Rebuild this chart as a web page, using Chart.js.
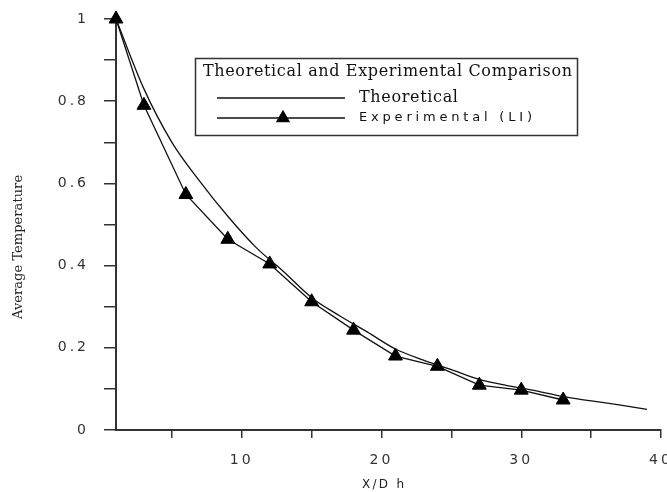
<!DOCTYPE html>
<html><head><meta charset="utf-8">
<script src="https://cdn.jsdelivr.net/npm/chart.js@4/dist/chart.umd.min.js"></script>
<style>html,body{margin:0;padding:0;background:#fff}#wrap{width:667px;height:492px}</style>
</head><body><div id="wrap"><canvas id="c" width="667" height="492"></canvas></div>
<script>
// ---- data ----
const theoX = [1,3,5,7,9,11,13,15,17,19,21,23,25,27,29,31,33,35,37,39];
const theoY = [1.0,0.83,0.70,0.605,0.52,0.445,0.385,0.322,0.278,0.238,0.197,0.17,0.147,0.123,0.108,0.096,0.081,0.071,0.061,0.05];
const expX = [1,3,6,9,12,15,18,21,24,27,30,33];
const expY = [1,0.79,0.573,0.464,0.404,0.312,0.243,0.18,0.155,0.109,0.097,0.073];
const xTickValues = [5,10,15,20,25,30,35,40];
const xTickLabels = {10:'10',20:'20',30:'30',40:'40'};
const yTickValues = [0,0.1,0.2,0.3,0.4,0.5,0.6,0.7,0.8,0.9,1];
const yTickLabels = ['0','','0.2','','0.4','','0.6','','0.8','','1'];
const seriesNames = ['Theoretical','Experimental (LI)'];
const legendTitle = 'Theoretical and Experimental Comparison';
const xTitle = 'X/D h';
const yTitle = 'Average Temperature';

const AX = '#333';
const SANS = '"DejaVu Sans", sans-serif';
const SERIF = '"DejaVu Serif", serif';
const toPts = (xs, ys) => xs.map((x, i) => ({x, y: ys[i]}));

// draw text so that it spans a given width (by letter spacing)
function fitText(ctx, text, x, y, font, width) {
  ctx.font = font;
  ctx.letterSpacing = '0px';
  const w = ctx.measureText(text).width;
  const n = Math.max(text.length - 1, 1);
  ctx.letterSpacing = ((width - w) / n).toFixed(2) + 'px';
  ctx.fillText(text, x, y);
  ctx.letterSpacing = '0px';
}

const overlay = {
  id: 'overlay',
  beforeUpdate(chart){ chart.ctx.letterSpacing = '3px'; },
  beforeDraw(chart){ chart.ctx.letterSpacing = '3px'; },
  afterDraw(chart){
    const ctx = chart.ctx;
    ctx.save();
    ctx.fillStyle = '#222';
    ctx.textAlign = 'left'; ctx.textBaseline = 'middle';
    fitText(ctx, xTitle, 362, 485, '12px ' + SANS, 42);
    ctx.save();
    ctx.translate(19, 319);
    ctx.rotate(-Math.PI/2);
    fitText(ctx, yTitle, 0, 0, '13px ' + SERIF, 144);
    ctx.restore();

    // legend box
    const bx = 195.5, by = 58.5, bw = 382, bh = 77;
    ctx.fillStyle = '#fff';
    ctx.fillRect(bx, by, bw, bh);
    ctx.strokeStyle = AX; ctx.lineWidth = 1.5;
    ctx.strokeRect(bx, by, bw, bh);
    ctx.fillStyle = '#111';
    fitText(ctx, legendTitle, 203, 72, '16px ' + SERIF, 369);
    const rows = [98, 118];
    chart.data.datasets.forEach((ds, i) => {
      const y = rows[i];
      ctx.strokeStyle = '#111'; ctx.lineWidth = 1.3;
      ctx.beginPath(); ctx.moveTo(217, y); ctx.lineTo(345, y); ctx.stroke();
      if (ds.pointRadius > 0) {
        ctx.fillStyle = '#000';
        Chart.helpers.drawPoint(ctx, {pointStyle: 'triangle', radius: 7, borderWidth: 1, rotation: 0}, 283, y);
        ctx.fill();
      }
      ctx.fillStyle = '#111';
      if (i === 0) fitText(ctx, ds.label, 359, y, '16px ' + SERIF, 99);
      else fitText(ctx, ds.label, 359, y, '13px ' + SANS, 173);
    });
    ctx.restore();
  }
};

new Chart(document.getElementById('c'), {
  type: 'line',
  data: {
    datasets: [
      {label: seriesNames[0], data: toPts(theoX, theoY), borderColor: '#111', borderWidth: 1.3,
       pointRadius: 0, cubicInterpolationMode: 'monotone', clip: false},
      {label: seriesNames[1], data: toPts(expX, expY), borderColor: '#111', borderWidth: 1.3,
       pointStyle: 'triangle', pointRadius: 8, pointBackgroundColor: '#000', pointBorderColor: '#000',
       pointBorderWidth: 1, tension: 0, clip: false}
    ]
  },
  options: {
    responsive: false, animation: false, devicePixelRatio: 1,
    layout: {autoPadding: false, padding: {top: 19, right: 6, left: 0, bottom: 0}},
    plugins: {legend: {display: false}, tooltip: {enabled: false}},
    scales: {
      x: {
        type: 'linear', min: 1, max: 40,
        afterBuildTicks: s => { s.ticks = xTickValues.map(v => ({value: v})); },
        afterFit: s => { s.height = 62; s.paddingLeft = 0; s.paddingRight = 0; },
        ticks: {callback: v => xTickLabels[v] || '', autoSkip: false, maxRotation: 0, padding: 14,
                color: '#333', font: {family: SANS, size: 14}},
        grid: {drawOnChartArea: false, drawTicks: true, tickLength: 8, color: AX, lineWidth: 1.5},
        border: {display: true, color: AX, width: 2}
      },
      y: {
        type: 'linear', min: 0, max: 1,
        afterBuildTicks: s => { s.ticks = yTickValues.map(v => ({value: v})); },
        afterFit: s => { s.width = 116; s.paddingTop = 0; s.paddingBottom = 0; },
        ticks: {callback: (v, i) => yTickLabels[i], autoSkip: false, padding: 15,
                color: '#333', font: {family: SANS, size: 14}},
        grid: {drawOnChartArea: false, drawTicks: true, tickLength: 12, color: AX, lineWidth: 1.5},
        border: {display: true, color: AX, width: 2}
      }
    }
  },
  plugins: [overlay]
});
</script></body></html>
